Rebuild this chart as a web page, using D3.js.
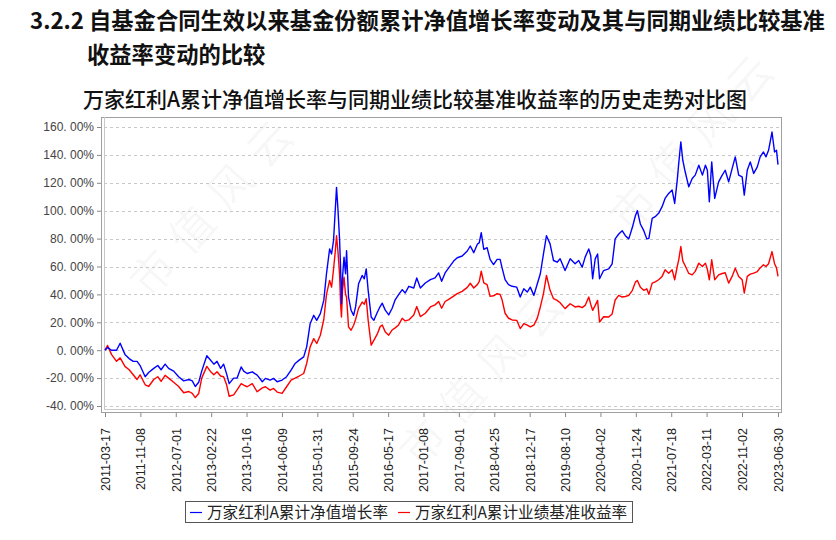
<!DOCTYPE html>
<html>
<head>
<meta charset="utf-8">
<script src="https://cdn.jsdelivr.net/npm/d3@7"></script>
<style>
  body { margin: 0; background: #fff; }
  svg { display: block; }
</style>
</head>
<body>
<script>
// dates shared by both series
var dates = [
  "2011-03-17","2011-04-03","2011-04-29","2011-06-02","2011-06-26","2011-07-28","2011-08-25","2011-09-21","2011-10-17","2011-11-06",
  "2011-12-10","2012-01-02","2012-02-05","2012-03-03","2012-03-25","2012-04-21","2012-05-14","2012-06-17","2012-07-20","2012-08-23",
  "2012-09-26","2012-10-19","2012-11-08","2012-12-01","2012-12-21","2013-01-24","2013-02-17","2013-03-12","2013-04-02","2013-04-26",
  "2013-05-16","2013-06-05","2013-06-22","2013-07-22","2013-08-14","2013-09-10","2013-09-27","2013-10-20","2013-11-23","2013-12-26",
  "2014-01-29","2014-02-19","2014-03-22","2014-04-14","2014-05-08","2014-06-10","2014-07-10","2014-08-09","2014-09-05","2014-10-02",
  "2014-11-01","2014-11-21","2014-12-14","2015-01-07","2015-01-27","2015-02-20","2015-03-15","2015-04-02","2015-04-23","2015-05-06",
  "2015-05-19","2015-05-29","2015-06-08","2015-06-18","2015-06-28","2015-07-05","2015-07-11","2015-07-18","2015-07-28","2015-08-07",
  "2015-08-14","2015-08-27","2015-09-13","2015-09-30","2015-10-13","2015-11-02","2015-11-26","2015-12-10","2015-12-23","2016-01-05",
  "2016-01-25","2016-02-12","2016-03-07","2016-03-25","2016-04-08","2016-04-27","2016-05-21","2016-06-13","2016-07-03","2016-07-26",
  "2016-08-19","2016-09-08","2016-10-02","2016-11-04","2016-11-24","2016-12-18","2017-01-20","2017-02-23","2017-03-26","2017-04-19",
  "2017-05-09","2017-06-01","2017-06-25","2017-07-28","2017-08-21","2017-09-23","2017-10-27","2017-11-16","2017-12-09","2018-01-02",
  "2018-01-15","2018-01-28","2018-02-14","2018-03-08","2018-03-28","2018-04-20","2018-05-14","2018-06-03","2018-06-16","2018-07-06",
  "2018-07-29","2018-08-22","2018-09-22","2018-10-15","2018-11-08","2018-12-01","2018-12-21","2019-01-14","2019-02-06","2019-02-26",
  "2019-03-19","2019-04-08","2019-05-02","2019-05-25","2019-06-18","2019-07-08","2019-08-10","2019-09-13","2019-10-16","2019-11-09",
  "2019-12-02","2019-12-22","2020-01-15","2020-01-28","2020-02-10","2020-02-27","2020-03-14","2020-03-27","2020-04-23","2020-05-27",
  "2020-06-19","2020-07-09","2020-08-02","2020-08-25","2020-09-15","2020-10-08","2020-11-01","2020-11-21","2020-12-04","2020-12-24",
  "2021-01-16","2021-02-05","2021-02-19","2021-03-13","2021-04-02","2021-04-25","2021-05-18","2021-06-07","2021-07-01","2021-07-24",
  "2021-08-10","2021-08-27","2021-09-06","2021-09-20","2021-10-03","2021-10-19","2021-11-12","2021-12-05","2021-12-25","2022-01-18",
  "2022-02-11","2022-03-03","2022-03-16","2022-03-29","2022-04-14","2022-05-04","2022-05-30","2022-06-23","2022-07-13","2022-08-05",
  "2022-08-28","2022-09-18","2022-10-11","2022-11-03","2022-11-17","2022-12-07","2022-12-27","2023-01-19","2023-02-12","2023-03-03",
  "2023-03-25","2023-04-11","2023-04-28","2023-05-21","2023-06-07","2023-06-20","2023-06-30"
];

// 万家红利A累计净值增长率 (%)
var navGrowth = [
  0, 2, 0, 0, 5, -3, -6, -8, -8, -11,
  -19, -16, -13, -11, -14, -10, -13, -15, -19, -22,
  -21, -22, -26, -23, -15, -4, -7, -10, -8, -13,
  -10, -17, -24, -20, -20, -12, -15, -16.7, -15.5, -17.9,
  -22.6, -20.2, -21.4, -20.2, -22.6, -21.4, -19, -14.3, -9.5, -7.1,
  -4.8, 2.4, 19, 25, 21.4, 26.2, 35.7, 54.8, 72.6, 69,
  78.6, 97.6, 116.7, 100, 80, 59.5, 33.3, 52.4, 66.7, 54.8,
  71.4, 38.1, 28.6, 25, 31, 47.6, 53.6, 51.2, 58.3, 42.9,
  23.8, 21.4, 27.4, 31.3, 33.7, 28.9, 25.3, 30.1, 36.1, 39.8,
  43.4, 41, 45.8, 44.6, 51.8, 44.6, 48.2, 50.6, 51.8, 55.4,
  49.4, 55.4, 59, 63.9, 66.3, 67.5, 71.1, 74.7, 69.9, 75.9,
  77.1, 84.3, 72.3, 73.5, 65.1, 61.4, 65.1, 65.1, 59, 50.6,
  47, 45.8, 45.2, 38.1, 44, 41.7, 45.2, 39.3, 47.6, 54.8,
  69, 82.1, 76.2, 64.3, 63.1, 65.5, 57.1, 65.5, 61.9, 64.3,
  59.5, 66.7, 72.6, 67.9, 51.2, 65.5, 69, 51.2, 57.1, 58.3,
  61.9, 79.8, 83.3, 85.7, 82.1, 79.8, 88.1, 96.4, 100, 90.5,
  85.7, 79.8, 80.2, 94.5, 95.7, 98.1, 102.9, 108.8, 112.4, 114.8,
  105.2, 121.9, 133.8, 149.3, 136.2, 127.9, 117.1, 123.1, 125.5, 132.6,
  125.5, 132.6, 129, 106.4, 135, 108.8, 120.7, 125.5, 129, 120.7,
  130.2, 138.6, 125.5, 124.3, 111.2, 129, 135, 126.7, 131.4, 138.6,
  142.1, 138.6, 143.3, 156.4, 142.1, 143.3, 133
];

// 万家红利A累计业绩基准收益率 (%)
var benchmark = [
  0, 3.4, -3, -8, -5.5, -11.6, -14, -17.6, -21, -17.6,
  -24.8, -26, -21, -19, -22.4, -18, -20, -23, -26, -30.5,
  -29.6, -31, -34, -31, -20, -11.6, -15.2, -17.6, -15.5, -18.5,
  -19, -24.8, -33, -32, -28.4, -24, -25, -26.2, -24, -29.8,
  -27, -26.2, -28.6, -27.4, -30, -31, -26.2, -21.4, -20, -18.5,
  -16.7, -9.5, 2.4, 8.3, 4.8, 10.7, 22, 40, 50, 45.2,
  58, 69, 82, 70, 55, 33.3, 23.8, 42.9, 52.4, 40,
  38, 16.7, 14.3, 17.9, 22, 30, 34.5, 33, 36.9, 21.4,
  3.6, 7.1, 11.9, 16.9, 18.1, 13.3, 10.8, 14.5, 16, 18.1,
  22.9, 21, 21.7, 25.3, 31.3, 24.1, 26.5, 31, 32.5, 34.9,
  30.1, 34.9, 36.5, 38.8, 40.5, 42.2, 45, 48, 44.6, 47,
  49.4, 56.6, 48.2, 47, 38.6, 39, 40.5, 40, 36.1, 26.5,
  22.9, 21.7, 21.4, 15.5, 19, 17.9, 16.7, 18, 23, 31,
  40.5, 53.6, 42.9, 36.9, 35.7, 34, 29.8, 33.3, 31, 31.5,
  30.5, 32.1, 38.1, 33, 28.6, 32.1, 35.7, 20.2, 24, 23.8,
  26, 36, 39.3, 38.1, 38.5, 39.3, 42.9, 48.8, 50, 45.2,
  42.9, 44, 40, 48.1, 49, 50.5, 52.9, 57.6, 55.2, 57.6,
  50.5, 60, 64.8, 74.3, 64, 60.5, 55, 54, 56.5, 62.4,
  60, 62.4, 58, 50.5, 64.8, 50.5, 54, 55, 55.5, 48.1,
  52.9, 58.8, 52.9, 50.5, 41, 52.9, 54.5, 55.2, 56.4, 59,
  61.2, 60, 62, 70.7, 62, 59, 53
];

var yTicks = [-40, -20, 0, 20, 40, 60, 80, 100, 120, 140, 160];
var xTickLabels = [
  "2011-03-17","2011-11-08","2012-07-01","2013-02-22","2013-10-16","2014-06-09","2015-01-31",
  "2015-09-24","2016-05-17","2017-01-08","2017-09-01","2018-04-25","2018-12-17","2019-08-10",
  "2020-04-02","2020-11-24","2021-07-18","2022-03-11","2022-11-02","2023-06-30"
];
var seriesNames = ["万家红利A累计净值增长率", "万家红利A累计业绩基准收益率"];
var seriesColors = ["#0000ff", "#ff0000"];

var svgWidth = 836, svgHeight = 540;
var frame = { left: 101, right: 781, top: 117, bottom: 412 };

var parseDate = d3.timeParse("%Y-%m-%d");

var svg = d3.select("body").append("svg")
  .attr("width", svgWidth)
  .attr("height", svgHeight);

// faint watermark
var wm = [[150, 300], [420, 470], [630, 235]];
wm.forEach(function(p) {
  svg.append("text")
    .attr("transform", "translate(" + p[0] + "," + p[1] + ") rotate(-48)")
    .attr("font-family", "Noto Sans CJK SC")
    .attr("font-size", 44)
    .attr("fill", "#000")
    .attr("fill-opacity", 0.04)
    .attr("letter-spacing", 14)
    .text("市值风云");
});

// titles
svg.append("text")
  .attr("x", 30).attr("y", 29)
  .attr("font-family", "Noto Sans CJK SC")
  .attr("font-weight", "bold")
  .attr("font-size", 22.3)
  .attr("fill", "#111")
  .text("3.2.2 自基金合同生效以来基金份额累计净值增长率变动及其与同期业绩比较基准");

svg.append("text")
  .attr("x", 87).attr("y", 63)
  .attr("font-family", "Noto Sans CJK SC")
  .attr("font-weight", "bold")
  .attr("font-size", 22.3)
  .attr("fill", "#111")
  .text("收益率变动的比较");

svg.append("text")
  .attr("x", 83).attr("y", 107)
  .attr("font-family", "Noto Sans CJK SC")
  .attr("font-weight", 500)
  .attr("font-size", 21)
  .attr("fill", "#111")
  .text("万家红利A累计净值增长率与同期业绩比较基准收益率的历史走势对比图");

// scales
var x = d3.scaleTime()
  .domain([parseDate("2011-03-17"), parseDate("2023-06-30")])
  .range([105, 778]);

var y = d3.scaleLinear()
  .domain([-40, 160])
  .range([406, 127]);

// grid lines
svg.append("g").selectAll("line")
  .data(yTicks)
  .enter().append("line")
  .attr("x1", frame.left + 3).attr("x2", frame.right - 1)
  .attr("y1", d => Math.round(y(d)) + 0.5)
  .attr("y2", d => Math.round(y(d)) + 0.5)
  .attr("stroke", "#c8c8c8")
  .attr("stroke-dasharray", "3,3");

// frame
svg.append("rect")
  .attr("x", frame.left + 0.5).attr("y", frame.top + 0.5)
  .attr("width", frame.right - frame.left).attr("height", frame.bottom - frame.top)
  .attr("fill", "none").attr("stroke", "#a0a0a0");
svg.append("line")
  .attr("x1", frame.left + 3.5).attr("x2", frame.left + 3.5)
  .attr("y1", frame.top).attr("y2", frame.bottom - 3)
  .attr("stroke", "#c8c8c8");
svg.append("line")
  .attr("x1", frame.left + 3).attr("x2", frame.right)
  .attr("y1", frame.bottom - 2.5).attr("y2", frame.bottom - 2.5)
  .attr("stroke", "#c8c8c8");

// axes
var leftAxis = d3.axisLeft(y)
  .tickValues(yTicks)
  .tickSize(4)
  .tickPadding(3)
  .tickFormat(d => d.toFixed(0) + ". 00%");

var yAxisG = svg.append("g")
  .attr("transform", "translate(" + frame.left + ",0)")
  .call(leftAxis);
yAxisG.select(".domain").remove();
yAxisG.selectAll("line").attr("stroke", "#888");
yAxisG.selectAll("text")
  .attr("font-family", "Liberation Sans, Arial")
  .attr("font-size", 12)
  .attr("fill", "#444");

var bottomAxis = d3.axisBottom(x)
  .tickValues(xTickLabels.map(parseDate))
  .tickSize(4)
  .tickFormat(d3.timeFormat("%Y-%m-%d"));

var xAxisG = svg.append("g")
  .attr("transform", "translate(0," + (frame.bottom + 1) + ")")
  .call(bottomAxis);
xAxisG.select(".domain").remove();
xAxisG.selectAll("line").attr("stroke", "#888");
xAxisG.selectAll("text")
  .attr("transform", "rotate(-90)")
  .attr("x", -15)
  .attr("y", 0)
  .attr("dy", "0.35em")
  .attr("text-anchor", "end")
  .attr("font-family", "Liberation Sans, Arial")
  .attr("font-size", 12.5)
  .attr("fill", "#222");

// lines
var rows = dates.map(function(d, i) {
  return { date: parseDate(d), nav: navGrowth[i], bench: benchmark[i] };
});

var line1 = d3.line()
  .x(d => x(d.date))
  .y(d => y(d.nav));

var line2 = d3.line()
  .x(d => x(d.date))
  .y(d => y(d.bench));

svg.append("path")
  .datum(rows)
  .attr("d", line2)
  .attr("fill", "none")
  .attr("stroke", seriesColors[1])
  .attr("stroke-width", 1.4)
  .attr("stroke-linejoin", "round");

svg.append("path")
  .datum(rows)
  .attr("d", line1)
  .attr("fill", "none")
  .attr("stroke", seriesColors[0])
  .attr("stroke-width", 1.4)
  .attr("stroke-linejoin", "round");

// legend
var legend = svg.append("g");
legend.append("rect")
  .attr("x", 185.5).attr("y", 501.5)
  .attr("width", 447).attr("height", 21)
  .attr("fill", "#fff").attr("stroke", "#555");

var legendX = [190, 398];
seriesNames.forEach(function(name, i) {
  legend.append("line")
    .attr("x1", legendX[i]).attr("x2", legendX[i] + 12)
    .attr("y1", 512.5).attr("y2", 512.5)
    .attr("stroke", seriesColors[i]).attr("stroke-width", 1.2);
  legend.append("text")
    .attr("x", legendX[i] + 17).attr("y", 518)
    .attr("font-family", "Noto Sans CJK SC")
    .attr("font-size", 15.6)
    .attr("fill", "#222")
    .text(name);
});
</script>
</body>
</html>
